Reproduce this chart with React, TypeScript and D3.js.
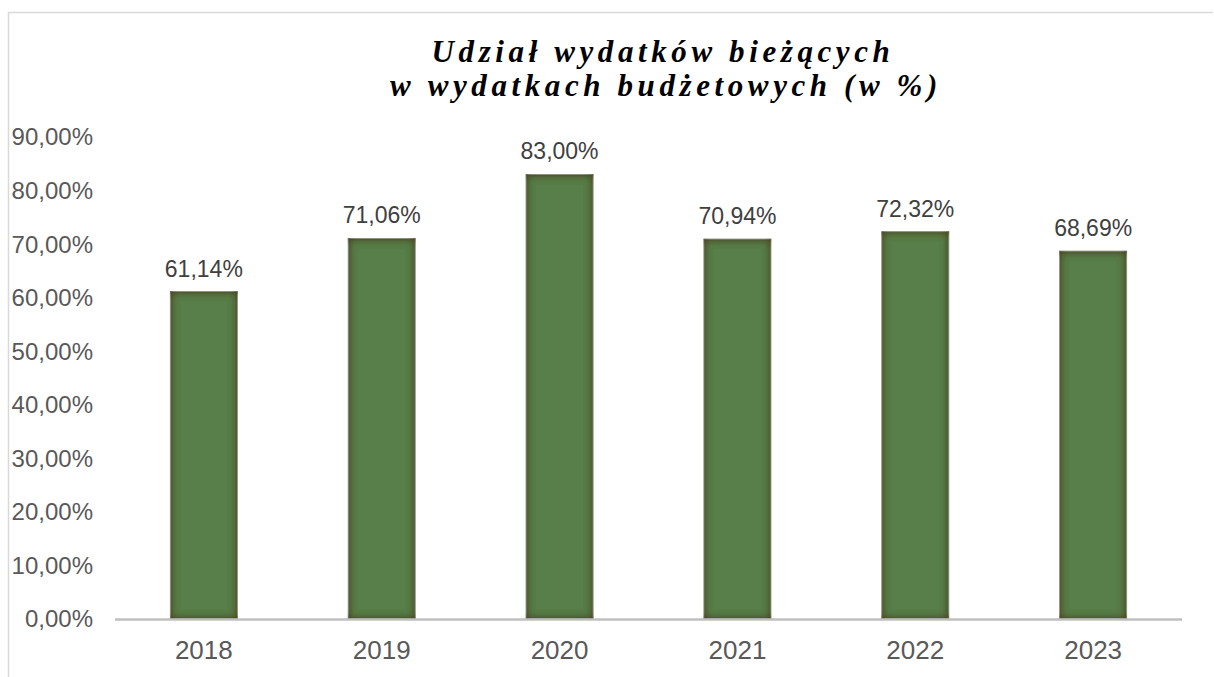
import React from "react";
import * as d3 from "d3";

const years = ["2018", "2019", "2020", "2021", "2022", "2023"];
const shares = [61.14, 71.06, 83.0, 70.94, 72.32, 68.69];
const yTicks = [0, 10, 20, 30, 40, 50, 60, 70, 80, 90];
const titleLines = ["Udział wydatków bieżących", "w wydatkach budżetowych (w %)"];

const W = 1214;
const H = 677;
const fmt = (v: number) => v.toFixed(2).replace(".", ",") + "%";

export default function App() {
  const x = d3.scaleBand<string>().domain(years).range([115, 1182]).paddingInner(0.623).paddingOuter(0.311);
  const y = d3.scaleLinear().domain([0, 90]).range([619, 137]);
  return (
    <svg width={W} height={H} style={{ position: "absolute", left: 0, top: 0 }}>
      <defs>
        <filter id="inset" x="-10%" y="-10%" width="120%" height="120%">
          <feFlood floodColor="#4a3c1c" floodOpacity="1" result="f" />
          <feComposite in="f" in2="SourceAlpha" operator="out" result="o" />
          <feGaussianBlur in="o" stdDeviation="4" result="b" />
          <feComposite in="b" in2="SourceAlpha" operator="in" result="s" />
          <feMerge>
            <feMergeNode in="SourceGraphic" />
            <feMergeNode in="s" />
            <feMergeNode in="s" />
          </feMerge>
        </filter>
      </defs>
      <rect x={0} y={0} width={W} height={H} fill="#fff" />
      <path d="M8.5,677 V12.5 H1213" fill="none" stroke="#d9d9d9" strokeWidth={1.5} />
      <text
        textAnchor="middle"
        fontFamily="'Liberation Serif', 'Times New Roman', serif"
        fontWeight="bold"
        fontStyle="italic"
        fontSize={31}
        letterSpacing={4.6}
        fill="#000"
      >
        <tspan x={663} y={62}>{titleLines[0]}</tspan>
        <tspan x={666} y={96}>{titleLines[1]}</tspan>
      </text>
      {yTicks.map((t) => (
        <text
          key={t}
          x={93}
          y={y(t)}
          dy="0.35em"
          textAnchor="end"
          fontFamily="'Liberation Sans', Arial, sans-serif"
          fontSize={24}
          fill="#595959"
        >
          {fmt(t)}
        </text>
      ))}
      {years.map((yr, i) => (
        <g key={yr}>
          <rect
            x={x(yr)!}
            y={y(shares[i])}
            width={x.bandwidth()}
            height={y(0) - y(shares[i])}
            fill="#587e49"
            stroke="#e8ece0"
            strokeWidth={0.8}
            filter="url(#inset)"
          />
          <text
            x={x(yr)! + x.bandwidth() / 2}
            y={y(shares[i]) - 15}
            textAnchor="middle"
            fontFamily="'Liberation Sans', Arial, sans-serif"
            fontSize={23}
            fill="#404040"
          >
            {fmt(shares[i])}
          </text>
          <text
            x={x(yr)! + x.bandwidth() / 2}
            y={659}
            textAnchor="middle"
            fontFamily="'Liberation Sans', Arial, sans-serif"
            fontSize={26}
            fill="#595959"
          >
            {yr}
          </text>
        </g>
      ))}
      <line x1={115} x2={1182} y1={619.5} y2={619.5} stroke="#bfbfbf" strokeWidth={2.5} />
    </svg>
  );
}
